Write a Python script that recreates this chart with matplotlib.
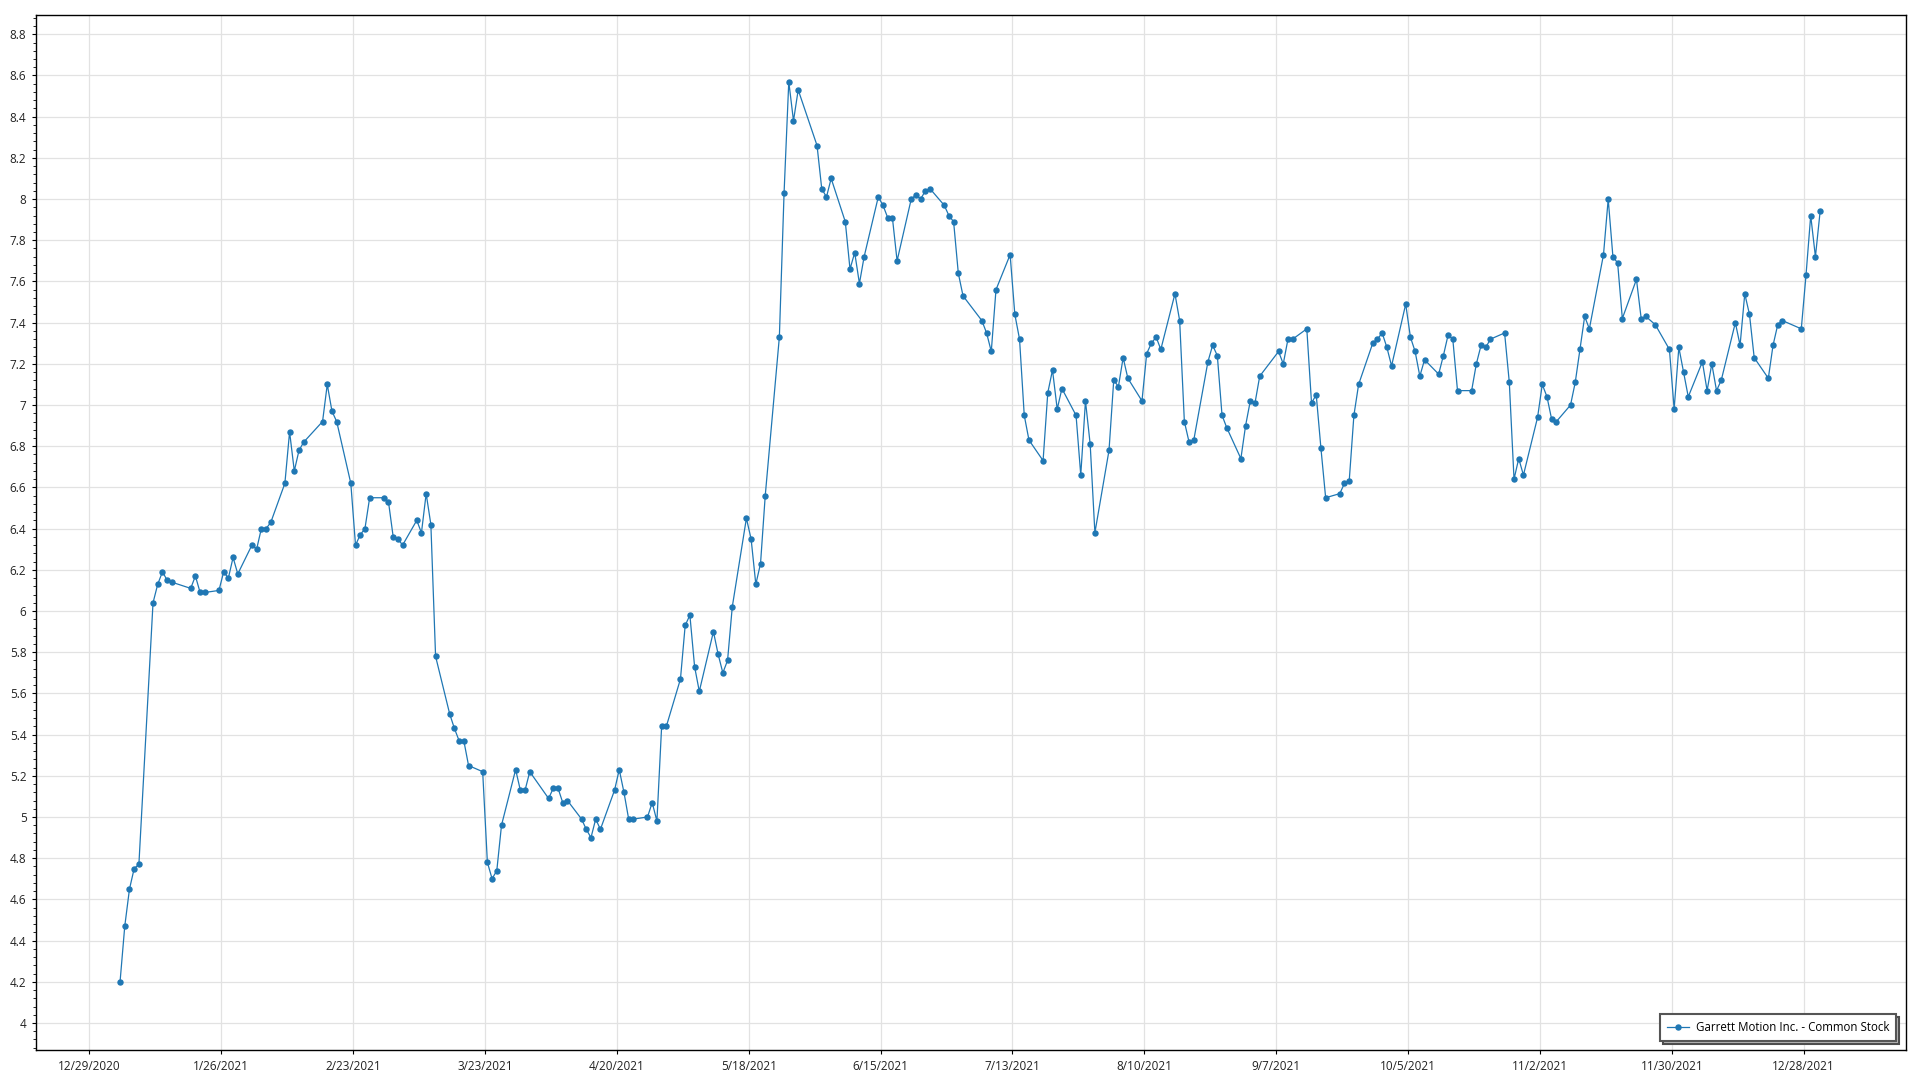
#!/usr/bin/env python3
"""
Garrett Motion Inc. - daily close, 2021
"""

import datetime as dt
import matplotlib
matplotlib.use("Agg")
import matplotlib.pyplot as plt
from matplotlib.ticker import MultipleLocator, AutoMinorLocator, FuncFormatter
import pandas as pd

# NYSE holidays in 2021 (market closed)
holidays = ["2021-01-18", "2021-02-15", "2021-04-02", "2021-05-31",
            "2021-07-05", "2021-09-06", "2021-11-25", "2021-12-24"]

# closing prices per month, one value per trading day
jan = [4.20, 4.47, 4.65, 4.75, 4.77, 6.04, 6.13, 6.19, 6.15, 6.14,
       6.11, 6.17, 6.09, 6.09, 6.10, 6.19, 6.16, 6.26, 6.18]
feb = [6.32, 6.30, 6.40, 6.40, 6.43, 6.62, 6.87, 6.68, 6.78, 6.82,
       6.92, 7.10, 6.97, 6.92, 6.62, 6.32, 6.37, 6.40, 6.55]
mar = [6.55, 6.53, 6.36, 6.35, 6.32, 6.44, 6.38, 6.57, 6.42, 5.78,
       5.50, 5.43, 5.37, 5.37, 5.25, 5.22, 4.78, 4.70, 4.74, 4.96,
       5.23, 5.13, 5.13]
apr = [5.22, 5.09, 5.14, 5.14, 5.07, 5.08, 4.99, 4.94, 4.90, 4.99,
       4.94, 5.13, 5.23, 5.12, 4.99, 4.99, 5.00, 5.07, 4.98, 5.44, 5.44]
may = [5.67, 5.93, 5.98, 5.73, 5.61, 5.90, 5.79, 5.70, 5.76, 6.02,
       6.45, 6.35, 6.13, 6.23, 6.56, 7.33, 8.03, 8.57, 8.38, 8.53]
jun = [8.26, 8.05, 8.01, 8.10, 7.89, 7.66, 7.74, 7.59, 7.72, 8.01,
       7.97, 7.91, 7.91, 7.70, 8.00, 8.02, 8.00, 8.04, 8.05, 7.97,
       7.92, 7.89]
jul = [7.64, 7.53, 7.41, 7.35, 7.26, 7.56, 7.73, 7.44, 7.32, 6.95,
       6.83, 6.73, 7.06, 7.17, 6.98, 7.08, 6.95, 6.66, 7.02, 6.81, 6.38]
aug = [6.78, 7.12, 7.09, 7.23, 7.13, 7.02, 7.25, 7.30, 7.33, 7.27,
       7.54, 7.41, 6.92, 6.82, 6.83, 7.21, 7.29, 7.24, 6.95, 6.89,
       6.74, 6.90]
sep = [7.02, 7.01, 7.14, 7.26, 7.20, 7.32, 7.32, 7.37, 7.01, 7.05,
       6.79, 6.55, 6.57, 6.62, 6.63, 6.95, 7.10, 7.30, 7.32, 7.35, 7.28]
oct_ = [7.19, 7.49, 7.33, 7.26, 7.14, 7.22, 7.15, 7.24, 7.34, 7.32,
        7.07, 7.07, 7.20, 7.29, 7.28, 7.32, 7.35, 7.11, 6.64, 6.74, 6.66]
nov = [6.94, 7.10, 7.04, 6.93, 6.92, 7.00, 7.11, 7.27, 7.43, 7.37,
       7.73, 8.00, 7.72, 7.69, 7.42, 7.61, 7.42, 7.43, 7.39, 7.27, 6.98]
dec = [7.28, 7.16, 7.04, 7.21, 7.07, 7.20, 7.07, 7.12, 7.40, 7.29,
       7.54, 7.44, 7.23, 7.13, 7.29, 7.39, 7.41, 7.37, 7.63, 7.92,
       7.72, 7.94]

series_name = "Garrett Motion Inc. - Common Stock"

prices = jan + feb + mar + apr + may + jun + jul + aug + sep + oct_ + nov + dec
# quotes are stamped at midday
dates = pd.bdate_range("2021-01-04", "2021-12-31", freq="C",
                       holidays=holidays) + pd.Timedelta(hours=12)

plt.rcParams["font.family"] = ["Open Sans", "DejaVu Sans"]

fig = plt.figure(figsize=(19.2, 10.8), dpi=100)
ax = fig.add_axes([0.0185, 0.0278, 0.974, 0.9582])

ax.plot(dates, prices, color="#1f77b4", linewidth=0.9, marker="o",
        markersize=3.6, label=series_name, zorder=3)

# x axis: ticks every 4 weeks starting 12/29/2020
start = dt.datetime(2020, 12, 29)
xticks = [start + dt.timedelta(days=28 * k) for k in range(14)]
ax.set_xticks(xticks)
ax.set_xticklabels([f"{d.month}/{d.day}/{d.year}" for d in xticks])
ax.set_xlim(start - dt.timedelta(days=11.45), start + dt.timedelta(days=385.65))

# y axis
ax.set_ylim(3.869, 8.893)
ax.yaxis.set_major_locator(MultipleLocator(0.2))
ax.yaxis.set_minor_locator(AutoMinorLocator(5))
ax.yaxis.set_major_formatter(FuncFormatter(lambda v, p: f"{round(v, 1):g}"))

ax.grid(True, which="major", color="#e2e2e2", linewidth=0.9, zorder=0)
ax.set_axisbelow(True)

for s in ax.spines.values():
    s.set_color("black")
    s.set_linewidth(1.0)

ax.tick_params(axis="both", which="major", labelsize=8.5, colors="black",
               length=3, width=0.8, labelcolor="#222222")
ax.tick_params(axis="y", which="minor", length=2, width=0.6)
ax.tick_params(axis="x", which="major", pad=4)

leg = ax.legend(loc="lower right", fontsize=8.3, fancybox=False,
                shadow={"facecolor": "#b8b8b8", "alpha": 1.0},
                edgecolor="#555555", framealpha=1.0, borderaxespad=0.8,
                handlelength=1.9, handletextpad=0.6, borderpad=0.6)
leg.get_frame().set_linewidth(1.5)

plt.savefig("out.png", dpi=100)
